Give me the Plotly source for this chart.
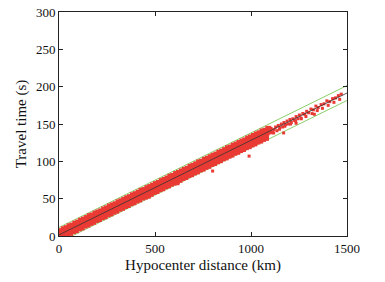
import plotly.graph_objects as go

# --- data ---
dist_upper = [10,25,40,55,70,85,100,115,130,145,160,175,190,205,220,235,250,265,280,295,310,325,340,355,370,385,400,415,430,445,460,475,490,505,520,535,550,565,580,595,610,625,640,655,670,685,700,715,730,745,760,775,790,805,820,835,850,865,880,895,910,925,940,955,970,985,1000,1015,1030,1045,1060,1075,1090]
time_upper = [6.5,9,10.5,13,14,16.5,18,20.5,22,24,26.5,27.5,30,31.5,33,35.5,37,39.5,41,42.5,45,46.5,48.5,50.5,52,54.5,56,58,60.5,61.5,64,65.5,67.5,69.5,71,73.5,75,77,79.5,80.5,83,84.5,86.5,88.5,90,92.5,94,96,98.5,99.5,102,103.5,105.5,107.5,109,111.5,113,115,117.5,118.5,121,122.5,124.5,126.5,128,130.5,132,134,136,137.5,140,141,143.5]

dist_mid = [17,32,47,62,77,92,107,122,137,152,167,182,197,212,227,242,257,272,287,302,317,332,347,362,377,392,407,422,437,452,467,482,497,512,527,542,557,572,587,602,617,632,647,662,677,692,707,722,737,752,767,782,797,812,827,842,857,872,887,902,917,932,947,962,977,992,1007,1022,1037,1052,1067,1082,1097]
time_mid = [3.5,5.8,7.2,9.6,11.0,13.5,15.0,17.2,18.7,21.0,22.5,24.8,26.3,28.6,30.0,32.4,33.9,36.2,37.7,40.0,41.4,43.8,45.3,47.6,49.0,51.4,52.9,55.2,56.6,59.0,60.5,62.8,64.3,66.6,68.0,70.4,71.9,74.2,75.6,78.0,79.5,81.8,83.2,85.6,87.1,89.4,90.9,93.2,94.6,97.0,98.5,100.8,102.2,104.6,106.1,108.4,109.8,112.2,113.7,116.0,117.4,119.8,121.3,123.6,125.0,127.4,128.9,131.2,132.6,135.0,136.5,138.8,140.2]

dist_lower = [13,28,43,58,73,88,103,118,133,148,163,178,193,208,223,238,253,268,283,298,313,328,343,358,373,388,403,418,433,448,463,478,493,508,523,538,553,568,583,598,613,628,643,658,673,688,703,718,733,748,763,778,793,808,823,838,853,868,883,898,913,928,943,958,973,988,1003,1018,1033,1048,1063,1078]
time_lower = [0.5,1.5,2.8,4.2,6.5,7.8,10.2,11.5,14.0,15.3,17.6,19.0,21.5,22.8,25.1,26.5,29.0,30.3,32.6,34.0,36.5,37.8,40.1,41.5,44.0,45.3,47.6,49.0,51.5,52.8,55.1,56.5,59.0,60.3,62.6,64.0,66.5,67.8,70.1,71.5,74.0,75.3,77.6,79.0,81.5,82.8,85.1,86.5,89.0,90.3,92.6,94.0,96.5,97.8,100.1,101.5,104.0,105.3,107.6,109.0,111.5,112.8,115.1,116.5,119.0,120.3,122.6,124.0,126.5,127.8,130.1,131.5]

dist_tail = [1105,1112,1120,1128,1135,1142,1150,1158,1165,1172,1180,1188,1195,1203,1210,1218,1226,1235,1244,1252,1260,1270,1280,1290,1300,1312,1325,1338,1350,1365,1380,1395,1410,1425,1440,1455,1470,1235,1330,800,990,860,1170,470,620,1118,1148,1176,1206,1232,1262,1286,1318,1345,1372,1402,1432,1462]
time_tail = [144,139,142.5,146,141,148,145,150,146,152,149,154,150,156,152,157,155,160,157,162,158,164,163,167,165,170,169,174,172,176,177,181,180,184,185,188,190,151,163,87,107,103,138,52,70,138,143,147,150,154,157,160,164,168,171,175,179,183]

line_x = [0, 1500]
line_center = [1.5, 191.5]
line_upper = [11.5, 201.5]
line_lower = [-8.5, 181.5]

x_ticks = [0, 500, 1000, 1500]
y_ticks = [0, 50, 100, 150, 200, 250, 300]

dist_band = dist_upper + dist_mid + dist_lower
time_band = time_upper + time_mid + time_lower

red = "#ea3a34"
fig = go.Figure()
fig.add_trace(go.Scatter(x=line_x, y=line_upper, mode="lines",
                         line=dict(color="#8ccf6a", width=1), showlegend=False))
fig.add_trace(go.Scatter(x=line_x, y=line_lower, mode="lines",
                         line=dict(color="#8ccf6a", width=1), showlegend=False))
fig.add_trace(go.Scatter(x=dist_band, y=time_band, mode="markers",
                         marker=dict(color=red, size=6, symbol="square",
                                     line=dict(width=0)),
                         showlegend=False))
fig.add_trace(go.Scatter(x=dist_tail, y=time_tail, mode="markers",
                         marker=dict(color=red, size=3, symbol="square",
                                     line=dict(width=0)),
                         showlegend=False))
fig.add_trace(go.Scatter(x=line_x, y=line_center, mode="lines",
                         line=dict(color="#333333", width=0.8), showlegend=False))

font_family = "Liberation Serif, Times New Roman, serif"
axis_common = dict(showgrid=False, zeroline=False, showline=True, linecolor="#222222",
                   linewidth=1, mirror="ticks", ticks="inside", ticklen=4,
                   tickcolor="#222222", automargin=False,
                   tickfont=dict(family=font_family, size=13, color="#111111"))

fig.update_layout(
    width=385, height=282,
    margin=dict(l=59, r=38, t=12, b=46),
    paper_bgcolor="white", plot_bgcolor="white",
    font=dict(family=font_family, color="#111111"),
    xaxis=dict(range=[0, 1500], tickvals=x_ticks,
               title=dict(text="Hypocenter distance (km)", font=dict(family=font_family, size=15), standoff=4),
               **axis_common),
    yaxis=dict(range=[0, 300], tickvals=y_ticks,
               title=dict(text="Travel time (s)", font=dict(family=font_family, size=15), standoff=5),
               **axis_common),
)

fig.write_html("out.html", config={"displayModeBar": False},
               post_script="document.body.style.margin='0';")
